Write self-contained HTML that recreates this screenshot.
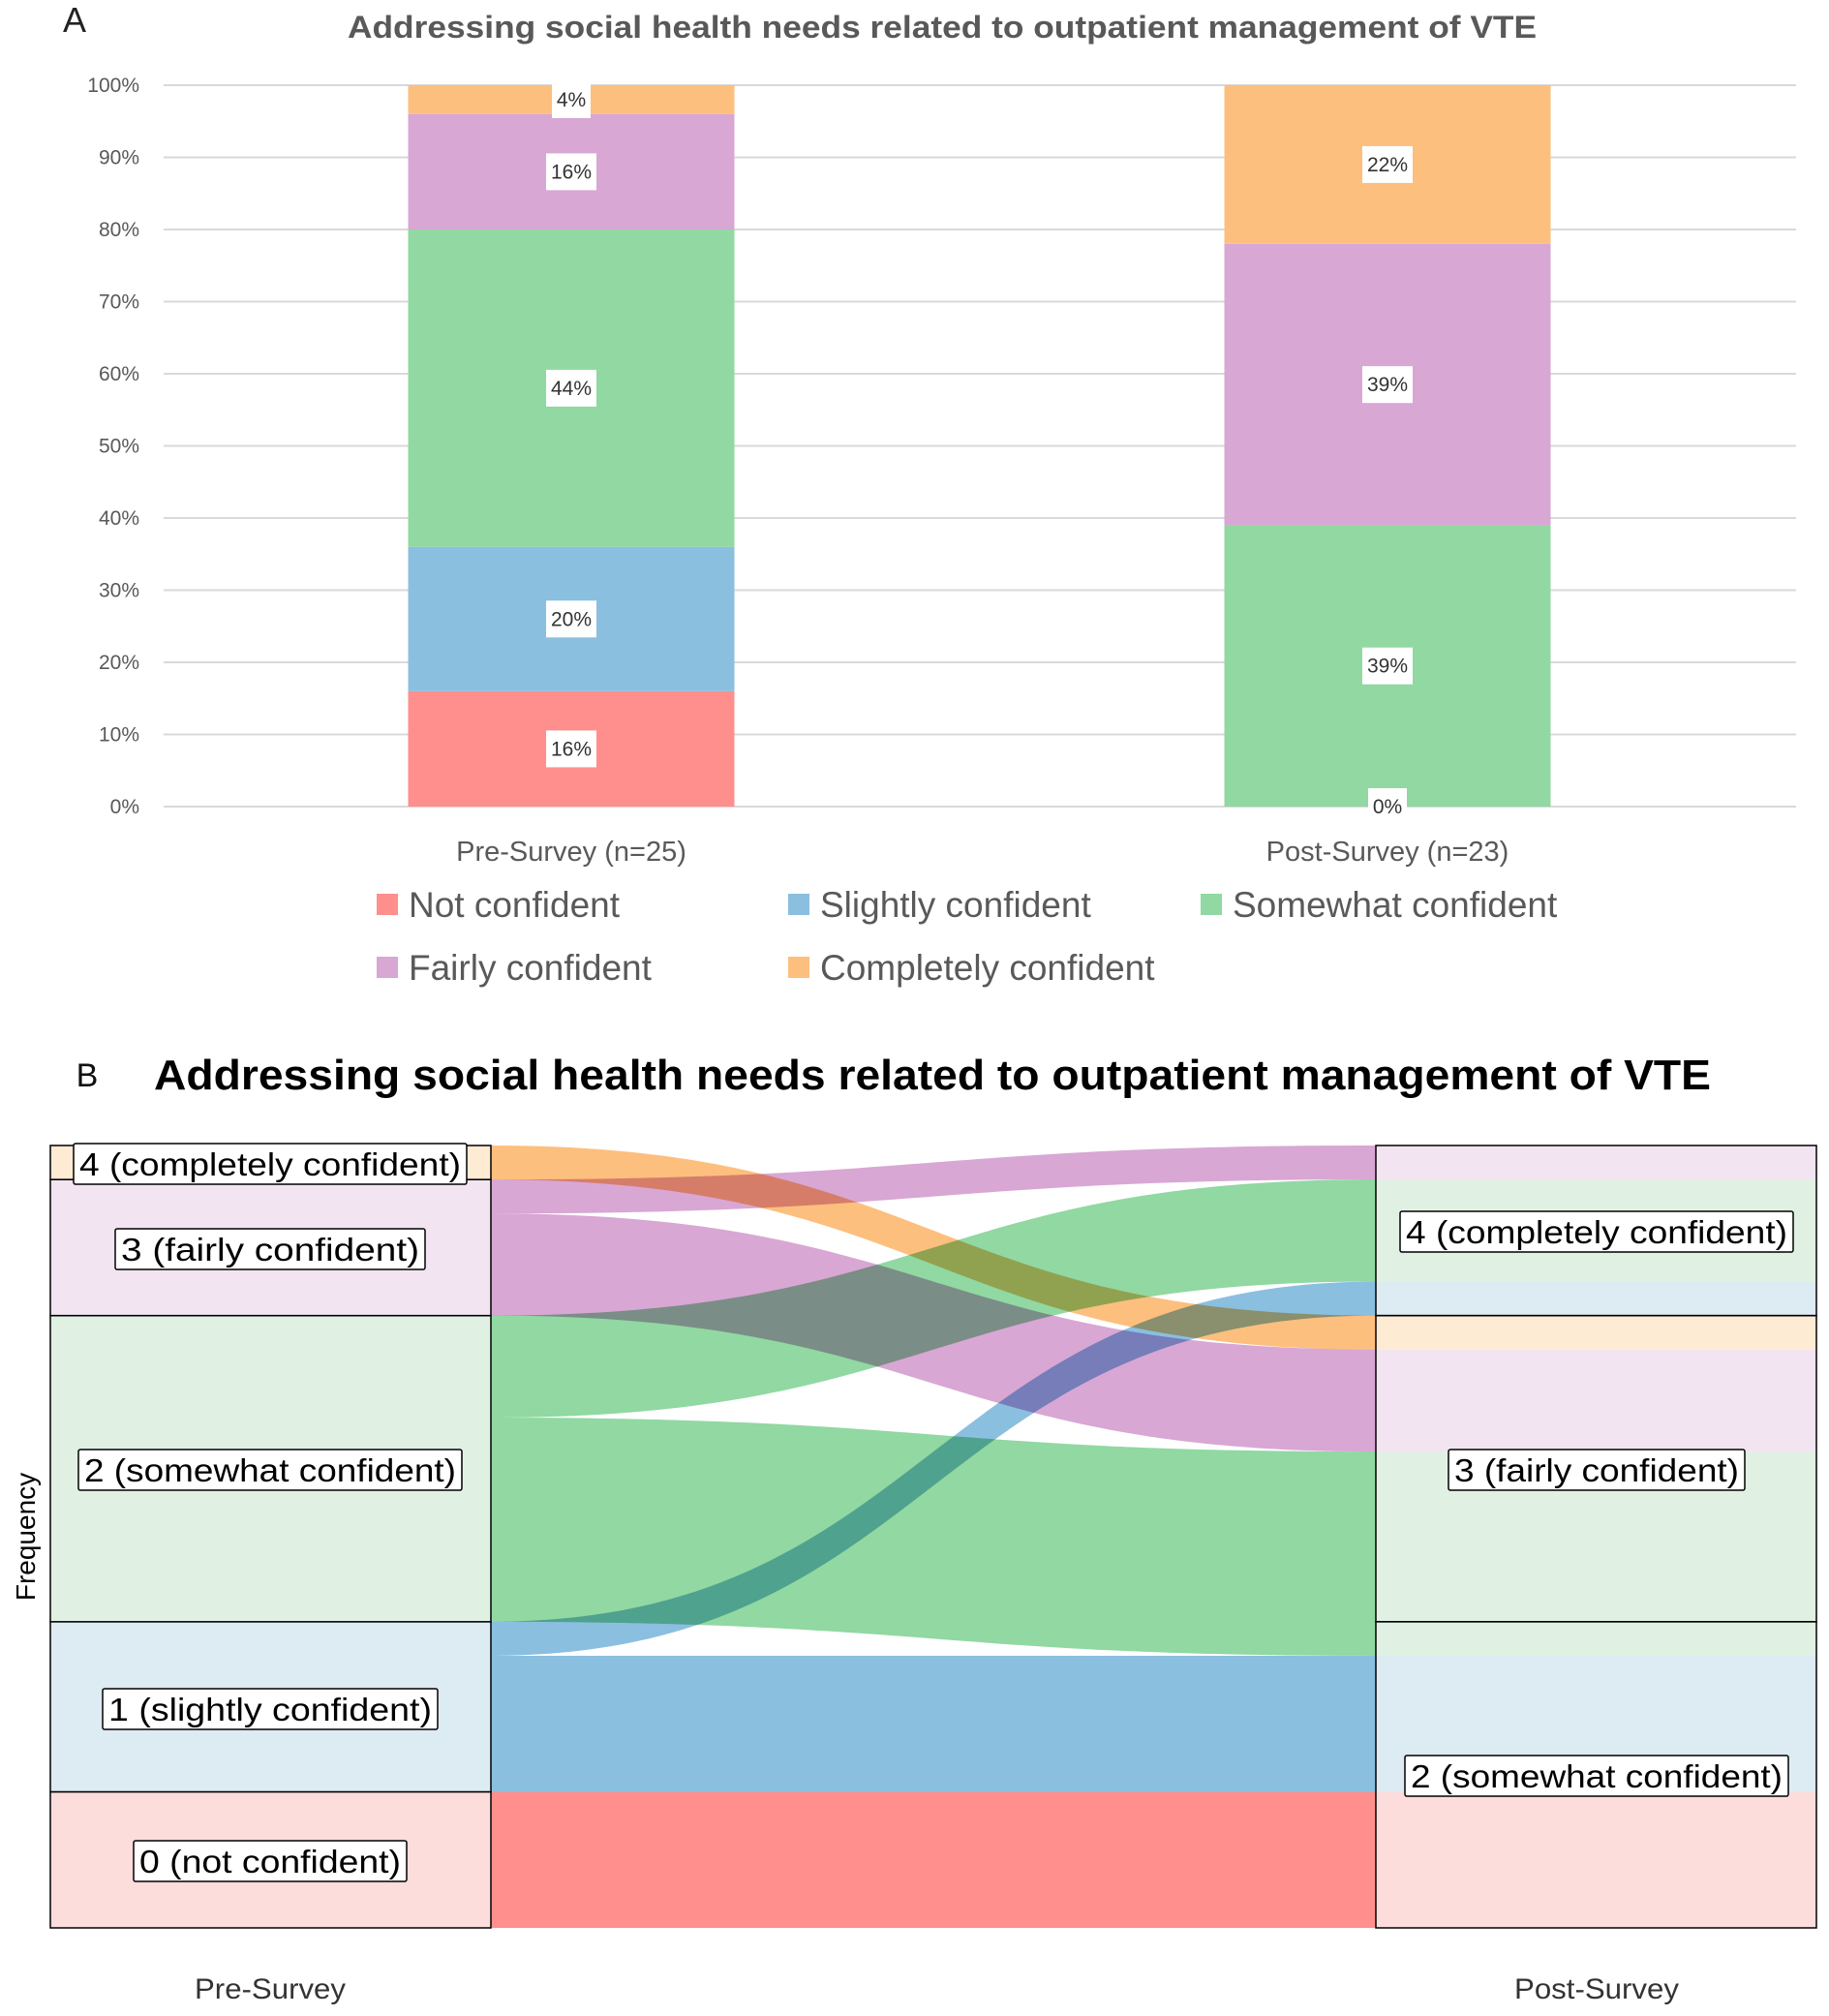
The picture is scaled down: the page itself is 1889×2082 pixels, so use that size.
<!DOCTYPE html>
<html><head><meta charset="utf-8"><style>
html,body{margin:0;padding:0;background:#fff}
svg{display:block}
text{font-family:"Liberation Sans",Arial,sans-serif}
</style></head><body>
<svg id="root" width="1889" height="2082" viewBox="0 0 1889 2082" xmlns="http://www.w3.org/2000/svg">
<rect x="0" y="0" width="1889" height="2082" fill="#fff"/>
<g id="chartA">
<text x="77" y="33" font-size="36" fill="#222" text-anchor="middle">A</text>
<text x="973" y="39" font-size="32" font-weight="bold" fill="#595959" text-anchor="middle" textLength="1228" lengthAdjust="spacingAndGlyphs">Addressing social health needs related to outpatient management of VTE</text>
<g id="gridA"></g>
<g id="barsA"></g>
<g id="legendA"></g>
</g>
<g id="chartB">
<text x="90" y="1122" font-size="34" fill="#111" text-anchor="middle">B</text>
<text x="963" y="1125" font-size="44" font-weight="bold" fill="#000" text-anchor="middle" textLength="1608" lengthAdjust="spacingAndGlyphs">Addressing social health needs related to outpatient management of VTE</text>
<text transform="translate(36,1587) rotate(-90)" font-size="28" fill="#000" text-anchor="middle">Frequency</text>
<g id="strataBg"></g>
<g id="flowsB"></g>
<g id="strataB"></g>
<text x="279" y="2064" font-size="30" fill="#333" text-anchor="middle" textLength="156" lengthAdjust="spacingAndGlyphs">Pre-Survey</text>
<text x="1649" y="2064" font-size="30" fill="#333" text-anchor="middle" textLength="170" lengthAdjust="spacingAndGlyphs">Post-Survey</text>
</g>
</svg>
<script>
// ---- Chart A data ----
const categoriesA = ["Pre-Survey (n=25)", "Post-Survey (n=23)"];
const seriesNames = ["Not confident","Slightly confident","Somewhat confident","Fairly confident","Completely confident"];
const notConfident = [16, 0];
const slightlyConfident = [20, 0];
const somewhatConfident = [44, 39];
const fairlyConfident = [16, 39];
const completelyConfident = [4, 22];
const yTicksA = [0,10,20,30,40,50,60,70,80,90,100];

// ---- Chart B data ----
const preStrata = ["0 (not confident)","1 (slightly confident)","2 (somewhat confident)","3 (fairly confident)","4 (completely confident)"];
const preCounts = [4, 5, 9, 4, 1];
const postStrataLabels = ["2 (somewhat confident)","3 (fairly confident)","4 (completely confident)"];
const postCounts = [9, 9, 5];
const flowSource = [0, 1, 2, 3, 4, 1, 2, 3];
const flowCount  = [4, 4, 6, 3, 1, 1, 3, 1];
const flowColorLevel = [0, 1, 2, 3, 4, 1, 2, 3];

const NS = "http://www.w3.org/2000/svg";
const colors = ["#fe8f8c","#8bbfdf","#91d8a2","#d8a7d4","#fdbf7e"];
const lightColors = ["#fddcdc","#ddebf3","#e0f1e3","#f2e4f0","#fdebd3"];
function mk(tag, attrs, parent){const e=document.createElementNS(NS,tag);for(const k in attrs)e.setAttribute(k,attrs[k]);parent.appendChild(e);return e;}

// ---- Chart A ----
const plotL=169, plotR=1855, y0=833, y100=88;
const yA = v => y0 - (v/100)*(y0-y100);
const barW = 337;
const xCenter = i => 590 + i*843;
const gridA = document.getElementById('gridA');
yTicksA.forEach(t=>{
  const l=mk('line',{x1:plotL,x2:plotR,y1:yA(t),y2:yA(t),stroke:'#d9d9d9','stroke-width':2},gridA);
  
  
  const tx=mk('text',{x:144,y:yA(t)+7,'font-size':21,fill:'#595959','text-anchor':'end'},gridA);
  tx.textContent=t+'%';
  
  
});
const barsA=document.getElementById('barsA');
const series=[notConfident,slightlyConfident,somewhatConfident,fairlyConfident,completelyConfident];
categoriesA.forEach((c,i)=>{
  let cum=0;
  const labels=[];
  series.forEach((s,k)=>{
    const v=s[i];
    const r=mk('rect',{x:xCenter(i)-barW/2,y:yA(cum+v),width:barW,height:yA(cum)-yA(cum+v),fill:colors[k]},barsA);
    
    
    labels.push([cum+v/2,v]);
    cum+=v;
  });
  labels.forEach(([m,v])=>{
    const cy=yA(m);
    const bw=v>=10?52:40;
    const b=mk('rect',{x:xCenter(i)-bw/2,y:cy-19,width:bw,height:38,fill:'#fff'},barsA);
    
    
    const t=mk('text',{x:xCenter(i),y:cy+7,'font-size':21,fill:'#333','text-anchor':'middle'},barsA);
    t.textContent=v+'%';
    
    
  });
  const ct=mk('text',{x:xCenter(i),y:889,'font-size':29,fill:'#595959','text-anchor':'middle'},barsA);
  ct.textContent=c;
  
  
});
const legendA=document.getElementById('legendA');
const legPos=[[389,934],[814,934],[1240,934],[389,999],[814,999]];
seriesNames.forEach((n,k)=>{
  const [lx,ly]=legPos[k];
  const sq=mk('rect',{x:lx,y:ly-11,width:22,height:22,fill:colors[k]},legendA);
  
  
  const t=mk('text',{x:lx+33,y:ly+13,'font-size':37,fill:'#595959'},legendA);
  t.textContent=n;
  
  
});

// ---- Chart B ----
const bTop=1183, bBot=1991, leftL=52, leftR=507, rightL=1421, rightR=1876;
const total=preCounts.reduce((a,b)=>a+b,0);
const unit=(bBot-bTop)/total;
const yB = u => bBot - u*unit;
const flowsB=document.getElementById('flowsB'), strataB=document.getElementById('strataB'), strataBg=document.getElementById('strataBg');
const srcStart=[];let acc=0;preCounts.forEach((c,i)=>{srcStart[i]=acc;acc+=c;});
const srcUsed=preCounts.map(()=>0);
let rightAcc=0;
const flowGeom=[];
flowSource.forEach((s,i)=>{
  const c=flowCount[i];
  const l0=srcStart[s]+srcUsed[s]; srcUsed[s]+=c;
  const r0=rightAcc; rightAcc+=c;
  flowGeom.push({l0,r0,c,col:flowColorLevel[i]});
});
[0,1,2,3,7,6,5,4].forEach(i=>{
  const g=flowGeom[i];
  const yl1=yB(g.l0+g.c), yl2=yB(g.l0), yr1=yB(g.r0+g.c), yr2=yB(g.r0);
  const xm=(leftR+rightL)/2;
  const d=`M${leftR},${yl1} C${xm},${yl1} ${xm},${yr1} ${rightL},${yr1} L${rightL},${yr2} C${xm},${yr2} ${xm},${yl2} ${leftR},${yl2} Z`;
  const p=mk('path',{d,fill:colors[g.col],style:'mix-blend-mode:multiply'},flowsB);
  
  
  const rr=mk('rect',{x:rightL,y:yr1,width:rightR-rightL,height:yr2-yr1,fill:lightColors[g.col]},strataBg);
  
  
});
const leftLabelY=[1922,1765,1518,1290,1202];
preCounts.forEach((c,i)=>{
  const ya=yB(srcStart[i]+c), yb=yB(srcStart[i]);
  const r=mk('rect',{x:leftL,y:ya,width:leftR-leftL,height:yb-ya,fill:lightColors[i],stroke:'#000','stroke-width':1.5},strataB);
  
  
});
let ra=0;
postCounts.forEach(c=>{
  const r=mk('rect',{x:rightL,y:yB(ra+c),width:rightR-rightL,height:yB(ra)-yB(ra+c),fill:'none',stroke:'#000','stroke-width':1.5},strataB);
  
  
  ra+=c;
});
function label(txt,cx,cy,w){
  const b=mk('rect',{x:cx-w/2,y:cy-21,width:w,height:42,fill:'#fff',stroke:'#000','stroke-width':1.5,rx:2},strataB);
  
  
  const t=mk('text',{x:cx,y:cy+12,'font-size':33,fill:'#000','text-anchor':'middle',textLength:w-12,lengthAdjust:'spacingAndGlyphs'},strataB);
  t.textContent=txt;
  
  
}
const leftW=[282,346,396,320,406];
preStrata.forEach((s,i)=>label(s,279,leftLabelY[i],leftW[i]));
const rightLabelY=[1834,1518,1272];
const rightW=[396,306,406];
postStrataLabels.forEach((s,i)=>label(s,1649,rightLabelY[i],rightW[i]));
</script>
</body></html>
